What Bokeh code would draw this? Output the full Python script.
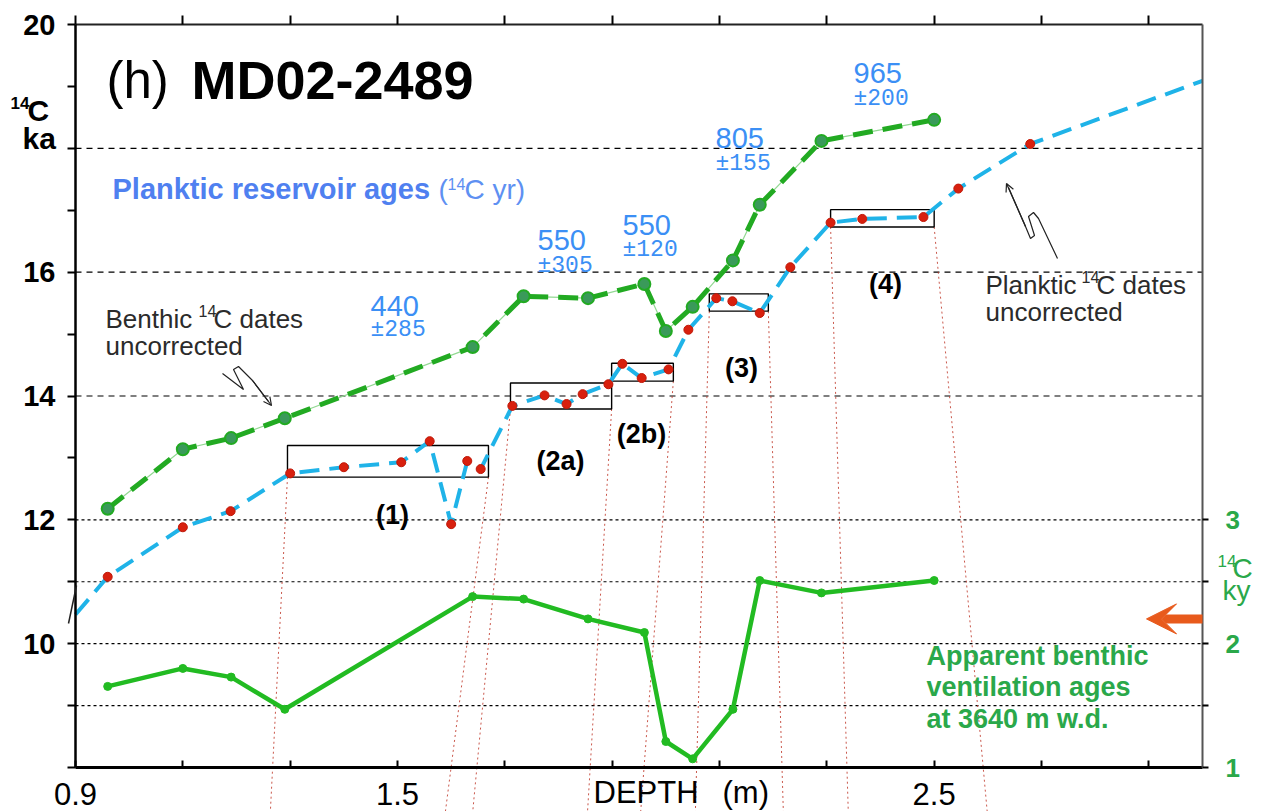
from bokeh.plotting import figure
from bokeh.models import (Range1d, LinearAxis, FixedTicker, Label, Arrow,
                          VeeHead, OpenHead)
from bokeh.embed import file_html
from bokeh.resources import INLINE

# ---------------- data ----------------
# benthic 14C dates (uncorrected), ka, and apparent ventilation ages (ky)
depth_benthic = [0.96, 1.10, 1.19, 1.29, 1.64, 1.735, 1.855, 1.96, 2.00, 2.05, 2.125, 2.175, 2.29, 2.50]
age_benthic = [12.18, 13.14, 13.32, 13.64, 14.79, 15.61, 15.58, 15.81, 15.05, 15.44, 16.19, 17.09, 18.12, 18.46]
vent_age = [1.655, 1.80, 1.73, 1.47, 2.38, 2.36, 2.20, 2.09, 1.21, 1.07, 1.47, 2.51, 2.41, 2.51]

# planktic 14C dates (uncorrected), ka
depth_planktic = [0.96, 1.10, 1.189, 1.30, 1.40, 1.507, 1.56, 1.60, 1.63, 1.655, 1.714, 1.774,
                  1.815, 1.845, 1.893, 1.919, 1.955, 2.005, 2.042, 2.094, 2.124, 2.175, 2.232,
                  2.307, 2.366, 2.48, 2.545, 2.679]
age_planktic = [11.08, 11.88, 12.14, 12.75, 12.85, 12.93, 13.27, 11.93, 12.95, 12.82, 13.84, 14.01,
                13.87, 14.03, 14.19, 14.52, 14.29, 14.43, 15.07, 15.58, 15.53, 15.34, 16.08,
                16.80, 16.86, 16.89, 17.35, 18.07]
planktic_ext_depth = [0.90, 3.00]
planktic_ext_age = [10.47, 19.09]

# plateau boxes
box_names = ["(1)", "(2a)", "(2b)", "(3)", "(4)"]
box_left = [1.295, 1.7105, 1.899, 2.081, 2.307]
box_right = [1.6695, 1.899, 2.014, 2.191, 2.50]
box_top = [13.20, 14.21, 14.53, 15.65, 17.01]
box_bottom = [12.69, 13.79, 14.24, 15.37, 16.73]

# dotted tie lines from box corners
tie_top_depth = [1.295, 1.6695, 1.7105, 1.899, 2.014, 2.081, 2.191, 2.307, 2.50]
tie_top_age = [12.69, 12.69, 13.79, 13.79, 14.24, 15.37, 15.37, 16.73, 16.73]
tie_bot_depth = [1.263, 1.589, 1.640, 1.854, 1.953, 2.055, 2.219, 2.340, 2.599]
tie_bot_age = [7.27] * 9

# planktic reservoir ages (14C yr)
res_age = [440, 550, 550, 805, 965]
res_err = [285, 305, 120, 155, 200]

# axes ticks
depth_min, depth_max = 0.9, 3.0
age_min, age_max = 8, 20
vent_min, vent_max = 1, 7
x_ticks = [0.9, 1.1, 1.3, 1.5, 1.7, 1.9, 2.1, 2.3, 2.5, 2.7, 2.9]
x_labelled = [0.9, 1.5, 2.5]
y_ticks = list(range(8, 21))
y_labelled = [10, 12, 14, 16, 20]
vent_ticks = [1, 1.5, 2, 2.5, 3]
vent_labelled = [1, 2, 3]
grid_dashed = [14, 16, 18]
grid_dotted = [9, 10, 11, 12]
arrow_vent = 2.2

# ---------------- layout helpers (screen px -> data) ----------------
W, H = 1268, 811
FRAME_L, FRAME_R = 75, 1202          # px of depth_min / depth_max
Y_TOP_PX, Y8_PX = 24, 767            # px of age 20 / age 8


def dx(px):
    return depth_min + (px - FRAME_L) * (depth_max - depth_min) / (FRAME_R - FRAME_L)


def dy(py):
    return age_max - (py - Y_TOP_PX) * (age_max - age_min) / (Y8_PX - Y_TOP_PX)


def to_vent(v):
    return vent_min + (v - age_min) / 2


def to_left(v):
    return age_min + 2 * (v - vent_min)


p = figure(width=W, height=H, x_range=Range1d(dx(0), dx(W)), y_range=Range1d(dy(H), dy(0)),
           x_axis_type=None, y_axis_type=None, toolbar_location=None, output_backend="svg",
           min_border_left=0, min_border_right=0, min_border_top=0, min_border_bottom=0)
p.outline_line_color = None
p.background_fill_color = "white"
p.border_fill_color = "white"
p.extra_y_ranges = {"vent": Range1d(to_vent(dy(H)), to_vent(dy(0)))}

FONT = "Liberation Sans"

# axes (drawn at fixed data locations)
left = LinearAxis(fixed_location=depth_min, ticker=FixedTicker(ticks=y_ticks),
                  major_label_overrides={t: (str(t) if t in y_labelled else "") for t in y_ticks},
                  bounds=(age_min, age_max), axis_line_width=2.5, axis_line_color="black",
                  major_tick_out=8, major_tick_in=0, major_tick_line_width=2,
                  minor_tick_line_color=None, major_label_standoff=12,
                  major_label_text_font=FONT, major_label_text_font_size="29px",
                  major_label_text_font_style="bold", major_label_text_color="black")
p.add_layout(left, "left")

bottom = LinearAxis(fixed_location=age_min, ticker=FixedTicker(ticks=x_ticks),
                    major_label_overrides={t: (str(t) if t in x_labelled else "") for t in x_ticks},
                    bounds=(depth_min, depth_max), axis_line_width=3, axis_line_color="black",
                    major_tick_in=7, major_tick_out=0, major_tick_line_width=2,
                    minor_tick_line_color=None, major_label_standoff=15,
                    major_label_text_font=FONT, major_label_text_font_size="31px",
                    major_label_text_color="black")
p.add_layout(bottom, "below")

top = LinearAxis(fixed_location=age_max, ticker=FixedTicker(ticks=x_ticks),
                 major_label_overrides={t: "" for t in x_ticks},
                 bounds=(depth_min, depth_max), axis_line_width=2, axis_line_color="#222222",
                 major_tick_in=0, major_tick_out=9, major_tick_line_width=2,
                 minor_tick_line_color=None, major_label_text_font_size="1px")
p.add_layout(top, "above")

right = LinearAxis(fixed_location=depth_max, y_range_name="vent", ticker=FixedTicker(ticks=vent_ticks),
                   major_label_overrides={t: (str(int(t)) if t in vent_labelled else "") for t in vent_ticks},
                   bounds=(vent_min, vent_max), axis_line_width=2, axis_line_color="#555555",
                   major_tick_out=6, major_tick_in=0, major_tick_line_width=2,
                   minor_tick_line_color=None, major_label_standoff=17,
                   major_label_text_font=FONT, major_label_text_font_size="26px",
                   major_label_text_font_style="bold", major_label_text_color="#2aa84a")
p.add_layout(right, "right")

# horizontal reference lines
p.segment(x0=[depth_min] * len(grid_dashed), y0=grid_dashed, x1=[depth_max] * len(grid_dashed), y1=grid_dashed,
          line_color="black", line_dash="6 5", line_width=1.2)
p.segment(x0=[depth_min] * len(grid_dotted), y0=grid_dotted, x1=[depth_max] * len(grid_dotted), y1=grid_dotted,
          line_color="black", line_dash="3 3", line_width=1.2)

# tie lines
p.segment(x0=tie_top_depth, y0=tie_top_age, x1=tie_bot_depth, y1=tie_bot_age,
          line_color="#c0392b", line_width=1, line_dash="2 3", line_alpha=0.85)

# boxes
p.quad(left=box_left, right=box_right, top=box_top, bottom=box_bottom,
       fill_color=None, line_color="black", line_width=1.4)

# planktic line + dots
pl_x = [planktic_ext_depth[0]] + depth_planktic + [planktic_ext_depth[1]]
pl_y = [planktic_ext_age[0]] + age_planktic + [planktic_ext_age[1]]
p.line(pl_x, pl_y, line_color="#1fb3e8", line_width=4, line_dash="20 10")
p.scatter(depth_planktic, age_planktic, size=9, fill_color="#d8200e", line_color="#c01808")

# benthic dashed line + markers
p.line(depth_benthic, age_benthic, line_color="#92d892", line_width=1.2)
p.line(depth_benthic, age_benthic, line_color="#22aa22", line_width=5, line_dash="20 10")
p.scatter(depth_benthic, age_benthic, size=12, fill_color="#3a9a5a", line_color="#22aa22", line_width=2)

# ventilation ages
p.line(depth_benthic, vent_age, y_range_name="vent", line_color="#22bb22", line_width=4.5)
p.scatter(depth_benthic, vent_age, y_range_name="vent", size=8, fill_color="#22bb22", line_color="#22bb22")

# orange arrow on the right axis
p.add_layout(Arrow(x_start=depth_max, y_start=to_left(arrow_vent), x_end=dx(1146), y_end=to_left(arrow_vent),
                   line_color="#e85a1c", line_width=9,
                   end=VeeHead(size=30, fill_color="#e85a1c", line_color="#e85a1c")))

# squiggle pointers
b_px = [(222, 373), (243, 389), (233, 369), (238, 366), (252, 380), (268, 401)]
p.line([dx(a) for a, b in b_px], [dy(b) for a, b in b_px], line_color="#222222", line_width=1.2)
p.add_layout(Arrow(x_start=dx(252), y_start=dy(380), x_end=dx(271), y_end=dy(405),
                   line_color="#222222", line_width=1.2,
                   end=OpenHead(size=8, line_color="#222222", line_width=1.2)))
pk_px = [(1057, 258), (1038, 218), (1033, 212), (1028, 216), (1034, 235), (1030, 238), (1025, 226), (1008, 187)]
p.line([dx(a) for a, b in pk_px], [dy(b) for a, b in pk_px], line_color="#222222", line_width=1.2)
p.add_layout(Arrow(x_start=dx(1025), y_start=dy(226), x_end=dx(1006), y_end=dy(183),
                   line_color="#222222", line_width=1.2,
                   end=OpenHead(size=8, line_color="#222222", line_width=1.2)))
p.add_layout(Arrow(x_start=dx(68), y_start=dy(623), x_end=dx(76), y_end=dy(585),
                   line_color="#222222", line_width=1.5, end=None))


def lab(text, px, py, size, color="black", style="normal", font=FONT, align="left", mid=False):
    # py is the text baseline in px unless mid=True (then it is the text's vertical centre)
    ymid = py if mid else py - 0.346 * size
    p.add_layout(Label(x=dx(px), y=dy(ymid), text=text, text_font_size=f"{size}px", text_color=color,
                       text_font_style=style, text_font=font, text_align=align, text_baseline="middle"))


# title
lab("(h)", 106, 98, 51)
lab("MD02-2489", 191, 98, 54, style="bold")

# left axis title
lab("14", 10, 108, 17, style="bold")
lab("C", 27, 120, 30, style="bold")
lab("ka", 22, 148, 30, style="bold")

# right axis title
GREEN_T = "#2aa84a"
lab("14", 1217, 566, 17, color=GREEN_T)
lab("C", 1232, 578, 28, color=GREEN_T)
lab("ky", 1222, 600, 28, color=GREEN_T)

# x axis title
lab("DEPTH", 593, 803, 31)
lab("(m)", 722, 803, 31)

# planktic reservoir ages
lab("Planktic reservoir ages", 112, 199, 29, color="#4f80f0", style="bold")
lab("(", 438, 199, 28, color="#5e90f2")
lab("14", 447, 189, 16, color="#5e90f2")
lab("C yr)", 464, 199, 28, color="#5e90f2")

res_pos = [(370, 316, 337), (537, 250, 273), (622, 235, 257), (715, 148, 171), (853, 83, 106)]
for a, e, (px, py1, py2) in zip(res_age, res_err, res_pos):
    lab(str(a), px, py1, 29, color="#3b8ff5")
    lab("\u00b1" + str(e), px, py2, 23, color="#3b8ff5", font="Liberation Mono")

# notes
NOTE = "#2b2b2b"
lab("Benthic", 105, 327, 26, color=NOTE)
lab("14", 198, 316, 16, color=NOTE)
lab("C dates", 213, 327, 26, color=NOTE)
lab("uncorrected", 105, 354, 26, color=NOTE)
lab("Planktic", 985, 293, 26, color=NOTE)
lab("14", 1081, 282, 16, color=NOTE)
lab("C dates", 1096, 293, 26, color=NOTE)
lab("uncorrected", 985, 320, 26, color=NOTE)

# box labels
box_lab_pos = [(392, 514), (560, 460), (641, 433), (741, 367), (885, 283)]
for name, (px, py) in zip(box_names, box_lab_pos):
    lab(name, px, py, 27, style="bold", align="center", mid=True)

# ventilation note
lab("Apparent benthic", 926, 665, 27, color=GREEN_T, style="bold")
lab("ventilation ages", 926, 696, 27, color=GREEN_T, style="bold")
lab("at 3640 m w.d.", 926, 728, 27, color=GREEN_T, style="bold")

open("out.html", "w").write(file_html(p, INLINE))
